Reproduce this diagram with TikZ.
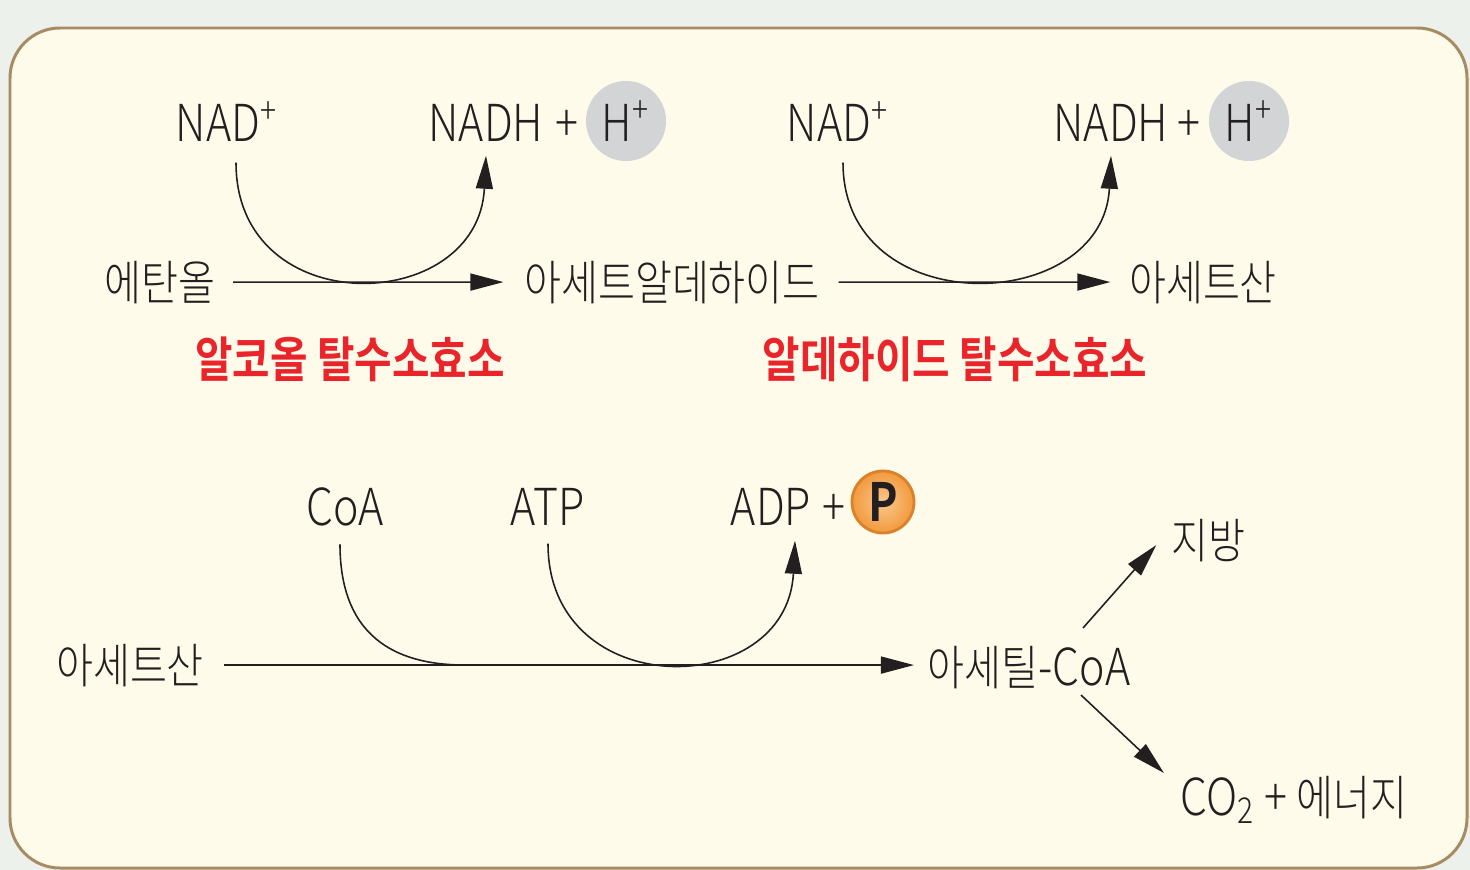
\documentclass[tikz,border=0pt]{standalone}
\usepackage{fontspec}
\setmainfont{Noto Sans CJK KR}[UprightFont=* Light, BoldFont=* Bold, FakeStretch=0.84]
\usetikzlibrary{arrows.meta}
\definecolor{bgtint}{HTML}{EDF1EB}
\definecolor{cream}{HTML}{FEFBEA}
\definecolor{frame}{HTML}{A58C63}
\definecolor{ink}{HTML}{231F20}
\definecolor{enzred}{HTML}{E9242A}
\definecolor{iongray}{HTML}{D3D4D6}
\definecolor{pedge}{HTML}{D9822B}
\definecolor{pin}{HTML}{FAC88E}
\definecolor{pout}{HTML}{F29A3C}
\newcommand{\lat}[1]{{\fontsize{14.5}{17}\selectfont #1}}

\begin{document}
\begin{tikzpicture}[x=0.01cm, y=-0.01cm, >={Triangle[length=3.3mm, width=1.7mm]},
  lbl/.style={anchor=base, inner sep=0pt, text=ink, font=\fontsize{14.5}{17}\selectfont},
  kor/.style={lbl, font=\fontsize{13.6}{16}\selectfont},
  enz/.style={anchor=base, inner sep=0pt, text=enzred, font=\fontsize{13.8}{16}\selectfont\bfseries},
  ion/.style={circle, fill=iongray, minimum size=8mm, inner sep=0pt, text=ink, font=\fontsize{14.5}{17}\selectfont},
  pgrp/.style={circle, draw=pedge, line width=0.8pt, inner color=pin, outer color=pout, minimum size=6.2mm, inner sep=0pt, text=ink, font=\fontsize{15}{17}\selectfont\bfseries},
  flow/.style={->, draw=ink, line width=0.45pt},
  curl/.style={draw=ink, line width=0.45pt}]
\useasboundingbox (0,0) rectangle (1470,870);
\fill[bgtint] (0,0) rectangle (1470,870);
\filldraw[fill=cream, draw=frame, line width=0.85pt, rounded corners=5mm] (10,28) rectangle (1467,868);

% ethanol -> acetaldehyde -> acetic acid
\node[lbl] (nad1) at (227,142) {NAD\textsuperscript{+}};
\node[lbl] (nadh1) at (486,142) {NADH};
\node[lbl] (plus1) at (567,142) {+};
\node[ion] (h1) at (626,121) {H\textsuperscript{+}};
\node[lbl] (nad2) at (838,142) {NAD\textsuperscript{+}};
\node[lbl] (nadh2) at (1111,142) {NADH};
\node[lbl] (plus2) at (1189,142) {+};
\node[ion] (h2) at (1249,121) {H\textsuperscript{+}};

\node[kor] (eth) at (160,300) {에탄올};
\node[kor] (ald) at (672,300) {아세트알데하이드};
\node[kor] (acet1) at (1203,300) {아세트산};
\node[enz] (adh) at (350,377) {알코올 탈수소효소};
\node[enz] (aldh) at (955,377) {알데하이드 탈수소효소};

\draw[flow, shorten <=1.7mm, shorten >=2mm] (eth) -- (ald);
\draw[flow, shorten <=1.8mm, shorten >=1.8mm] (ald) -- (acet1);
\draw[flow] ([xshift=0.9mm, yshift=-2mm]nad1.south) .. controls +(0,160) and +(-8,160) .. ([yshift=-1.3mm]nadh1.south);
\draw[flow] ([xshift=0.5mm, yshift=-2mm]nad2.south) .. controls +(0,160) and +(-8,160) .. ([yshift=-1.3mm]nadh2.south);

% acetic acid -> acetyl-CoA
\node[lbl] (coa) at (345,525) {CoA};
\node[lbl] (atp) at (548,525) {ATP};
\node[lbl] (adp) at (771,525) {ADP};
\node[lbl] (plus3) at (834,525) {+};
\node[pgrp] (pi) at (883,502) {P};

\node[kor] (acet2) at (130,683) {아세트산};
\node[kor] (acoa) at (1029,685) {아세틸\lat{-CoA}};
\node[kor] (fat) at (1208,558) {지방};
\node[kor] (co2) at (1294,815) {\lat{CO\textsubscript{2} +} 에너지};

\draw[flow, shorten <=1.9mm, shorten >=1.3mm] (acet2.east) -- coordinate[pos=0.361] (join) (acet2.east -| acoa.west);
\draw[curl] ([xshift=-0.5mm, yshift=-1.8mm]coa.south) .. controls +(0,100) and +(-60,0) .. (join);
\draw[flow] ([yshift=-1.8mm]atp.south) .. controls +(0,160) and +(-8,160) .. ([xshift=2.4mm, yshift=-1.5mm]adp.south);
\draw[flow] ([xshift=-4.8mm, yshift=5.7mm]acoa.base east) -- ([xshift=-1.4mm, yshift=1.3mm]fat.base west);
\draw[flow] ([xshift=-5mm, yshift=-1mm]acoa.base east) -- ([xshift=-1.6mm, yshift=4.2mm]co2.base west);
\end{tikzpicture}
\end{document}
